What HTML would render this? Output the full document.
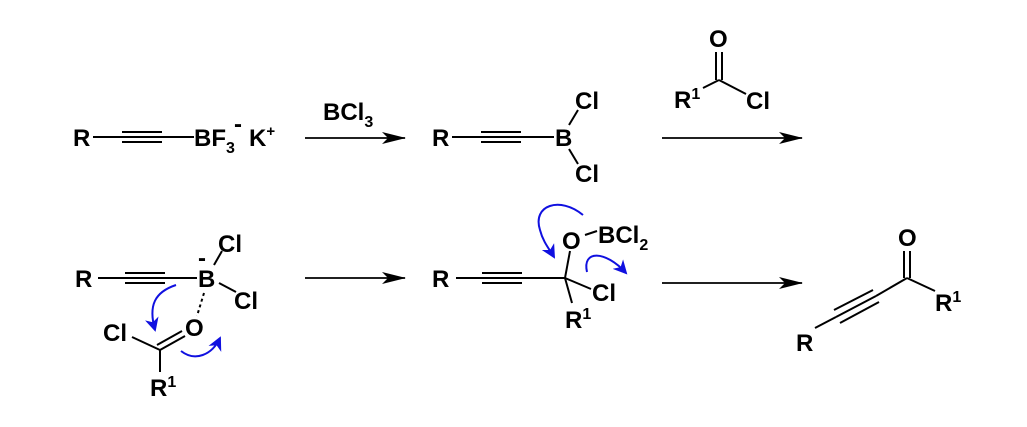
<!DOCTYPE html>
<html><head><style>html,body{margin:0;padding:0;background:#fff}svg{display:block}text{font-family:"Liberation Sans",Arial,sans-serif;font-weight:bold;font-size:24px;fill:#000}</style></head>
<body>
<svg width="1027" height="427" viewBox="0 0 1027 427" xmlns="http://www.w3.org/2000/svg">
<defs>
<marker id="ah" markerWidth="24" markerHeight="12" refX="23" refY="6" orient="auto" markerUnits="userSpaceOnUse"><path d="M0,0 L24,6 L0,12 L6,6z" fill="#000"/></marker>
<marker id="bh" markerWidth="14" markerHeight="14" refX="12" refY="7" orient="auto" markerUnits="userSpaceOnUse"><path d="M0,0 L14,7 L0,14 L4,7z" fill="#1010e0"/></marker>
</defs>
<g stroke="#000" stroke-width="2" fill="none">
<line x1="93" y1="137" x2="122" y2="137"/>
<line x1="122" y1="132" x2="162" y2="132"/><line x1="122" y1="137" x2="162" y2="137"/><line x1="122" y1="142" x2="162" y2="142"/>
<line x1="162" y1="137" x2="194" y2="137"/>
<line x1="305" y1="138" x2="405" y2="138" marker-end="url(#ah)" stroke-width="1.8"/>
<line x1="452" y1="137" x2="481" y2="137"/>
<line x1="481" y1="132" x2="521" y2="132"/><line x1="481" y1="137" x2="521" y2="137"/><line x1="481" y1="142" x2="521" y2="142"/>
<line x1="521" y1="137" x2="554" y2="137"/>
<line x1="569" y1="125" x2="578" y2="110"/><line x1="569" y1="149" x2="578" y2="164"/>
<line x1="716" y1="52" x2="716" y2="80"/><line x1="722" y1="52" x2="722" y2="80"/>
<line x1="719" y1="80" x2="703" y2="88"/><line x1="719" y1="80" x2="746" y2="94"/>
<line x1="662" y1="138" x2="802" y2="138" marker-end="url(#ah)" stroke-width="1.8"/>
<line x1="98" y1="278" x2="125" y2="278"/>
<line x1="125" y1="273" x2="165" y2="273"/><line x1="125" y1="278" x2="165" y2="278"/><line x1="125" y1="283" x2="165" y2="283"/>
<line x1="165" y1="278" x2="197" y2="278"/>
<line x1="214" y1="265" x2="222" y2="251"/><line x1="219" y1="283" x2="236" y2="292"/>
<line x1="204" y1="293" x2="197" y2="316" stroke-dasharray="3,3"/>
<line x1="132" y1="337" x2="160" y2="350"/>
<line x1="160" y1="350" x2="185" y2="336"/><line x1="157" y1="345" x2="182" y2="331"/>
<line x1="160" y1="350" x2="160" y2="372"/>
<line x1="305" y1="278" x2="405" y2="278" marker-end="url(#ah)" stroke-width="1.8"/>
<line x1="456" y1="278" x2="482" y2="278"/>
<line x1="482" y1="273" x2="522" y2="273"/><line x1="482" y1="278" x2="522" y2="278"/><line x1="482" y1="283" x2="522" y2="283"/>
<line x1="522" y1="278" x2="565" y2="278"/>
<line x1="565" y1="278" x2="570" y2="251"/>
<line x1="565" y1="278" x2="591" y2="289"/>
<line x1="565" y1="278" x2="572" y2="303"/>
<line x1="585" y1="235" x2="597" y2="231"/>
<line x1="662" y1="283" x2="802" y2="283" marker-end="url(#ah)" stroke-width="1.8"/>
<line x1="904" y1="251" x2="904" y2="278"/><line x1="910" y1="251" x2="910" y2="278"/>
<line x1="907" y1="278" x2="935" y2="291"/>
<line x1="907" y1="278" x2="876" y2="296"/>
<line x1="876" y1="296" x2="836" y2="317"/><line x1="873" y1="290" x2="834" y2="310"/><line x1="879" y1="302" x2="840" y2="323"/>
<line x1="836" y1="317" x2="815" y2="328"/>
</g>
<g stroke="#1010e0" stroke-width="2" fill="none">
<path d="M176,285 C155,292 148,305 155,330" marker-end="url(#bh)"/>
<path d="M181,351 C195,362 212,355 220,338" marker-end="url(#bh)"/>
<path d="M583,215 C560,196 532,205 540,230 C543,242 550,250 554,257" marker-end="url(#bh)"/>
<path d="M587,272 C582,250 605,250 626,273" marker-end="url(#bh)"/>
</g>
<text x="73" y="146">R</text>
<text x="194" y="146">BF<tspan font-size="16" dy="7">3</tspan></text>
<text x="234" y="132" font-size="20">-</text>
<text x="249" y="146">K<tspan font-size="15" dy="-10">+</tspan></text>
<text x="323" y="120">BCl<tspan font-size="16" dy="7">3</tspan></text>
<text x="432" y="146">R</text>
<text x="555" y="146">B</text>
<text x="575" y="109">Cl</text>
<text x="575" y="182">Cl</text>
<text x="709" y="47">O</text>
<text x="674" y="108">R<tspan font-size="16" dy="-9">1</tspan></text>
<text x="746" y="109">Cl</text>
<text x="75" y="287">R</text>
<text x="198" y="287">B</text>
<text x="198" y="266" font-size="20">-</text>
<text x="218" y="252">Cl</text>
<text x="234" y="309">Cl</text>
<text x="185" y="336">O</text>
<text x="103" y="341">Cl</text>
<text x="150" y="396">R<tspan font-size="16" dy="-9">1</tspan></text>
<text x="432" y="287">R</text>
<text x="562" y="249">O</text>
<text x="598" y="243">BCl<tspan font-size="16" dy="7">2</tspan></text>
<text x="592" y="301">Cl</text>
<text x="565" y="328">R<tspan font-size="16" dy="-9">1</tspan></text>
<text x="898" y="246">O</text>
<text x="935" y="311">R<tspan font-size="16" dy="-9">1</tspan></text>
<text x="796" y="351">R</text>
</svg>
</body></html>
